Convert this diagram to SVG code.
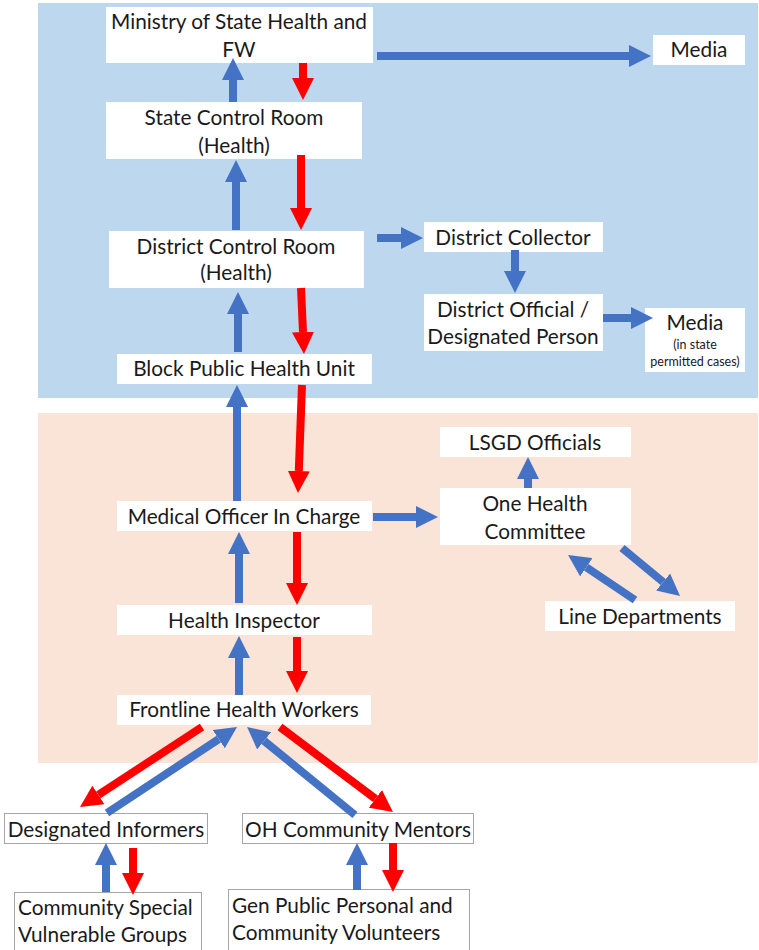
<svg xmlns="http://www.w3.org/2000/svg" width="759" height="950" viewBox="0 0 759 950">
<style>
.bg{fill:#ffffff}
.pblue{fill:#bdd7ee}
.ppeach{fill:#fae3d7}
.box{fill:#ffffff}
.obox{fill:#ffffff;stroke:#a6a6a6;stroke-width:1}
text{font-family:Lato,"Open Sans","Liberation Sans",sans-serif;font-size:20.8px;fill:#1a1a1a;text-anchor:middle}
.l{text-anchor:start}
.small{font-size:12.5px}
.b{stroke:#4472c4;stroke-width:8;fill:none;marker-end:url(#hb)}
.r{stroke:#ff0000;stroke-width:8;fill:none;marker-end:url(#hr)}
</style>
<defs>
<marker id="hb" viewBox="0 0 10 10" refX="0" refY="5" markerWidth="2.75" markerHeight="2.75" preserveAspectRatio="none" orient="auto" markerUnits="strokeWidth"><path d="M0,0 L10,5 L0,10 z" fill="#4472c4"/></marker>
<marker id="hr" viewBox="0 0 10 10" refX="0" refY="5" markerWidth="2.75" markerHeight="2.75" preserveAspectRatio="none" orient="auto" markerUnits="strokeWidth"><path d="M0,0 L10,5 L0,10 z" fill="#ff0000"/></marker>
</defs>
<rect class="bg" x="0" y="0" width="759" height="950"/>
<g id="panels">
<rect class="pblue" x="38" y="3" width="720" height="395"/>
<rect class="ppeach" x="38" y="413" width="720" height="350"/>
</g>
<g id="ministry"><rect class="box" x="106" y="7" width="267" height="56"/><text x="239" y="29">Ministry of State Health and</text><text x="239" y="57">FW</text></g>
<g id="media-top"><rect class="box" x="653" y="35" width="92" height="30"/><text x="699" y="57">Media</text></g>
<g id="state-control"><rect class="box" x="106" y="102" width="256" height="57"/><text x="234" y="125">State Control Room</text><text x="234" y="153">(Health)</text></g>
<g id="district-control"><rect class="box" x="109" y="231" width="255" height="57"/><text x="236" y="254">District Control Room</text><text x="236" y="280">(Health)</text></g>
<g id="district-collector"><rect class="box" x="424" y="222" width="179" height="30"/><text x="513" y="245">District Collector</text></g>
<g id="district-official"><rect class="box" x="424" y="294" width="179" height="57"/><text x="513" y="317">District Official /</text><text x="513" y="344">Designated Person</text></g>
<g id="media-district"><rect class="box" x="645" y="308" width="100" height="64"/><text x="695" y="330">Media</text><text class="small" x="695" y="349">(in state</text><text class="small" x="695" y="366">permitted cases)</text></g>
<g id="block"><rect class="box" x="117" y="354" width="255" height="30"/><text x="244" y="376">Block Public Health Unit</text></g>
<g id="lsgd"><rect class="box" x="440" y="427" width="191" height="30"/><text x="535" y="450">LSGD Officials</text></g>
<g id="one-health"><rect class="box" x="440" y="488" width="191" height="57"/><text x="535" y="511">One Health</text><text x="535" y="539">Committee</text></g>
<g id="line-dept"><rect class="box" x="545" y="601" width="190" height="30"/><text x="640" y="624">Line Departments</text></g>
<g id="medical-officer"><rect class="box" x="117" y="501" width="255" height="30"/><text x="244" y="524">Medical Officer In Charge</text></g>
<g id="health-inspector"><rect class="box" x="117" y="605" width="255" height="30"/><text x="244" y="628">Health Inspector</text></g>
<g id="frontline"><rect class="box" x="117" y="695" width="254" height="30"/><text x="244" y="717">Frontline Health Workers</text></g>
<g id="designated-informers"><rect class="obox" x="4.5" y="813.5" width="203" height="30"/><text x="106" y="837">Designated Informers</text></g>
<g id="oh-mentors"><rect class="obox" x="242.5" y="813.5" width="231" height="30"/><text x="358" y="837">OH Community Mentors</text></g>
<g id="community-special"><rect class="obox" x="14.5" y="892.5" width="187" height="62"/><text class="l" x="18" y="915">Community Special</text><text class="l" x="18" y="942">Vulnerable Groups</text></g>
<g id="gen-public"><rect class="obox" x="228.5" y="889.5" width="241" height="65"/><text class="l" x="232" y="913">Gen Public Personal and</text><text class="l" x="232" y="940">Community Volunteers</text></g>
<g id="connectors">
<line class="b" x1="377" y1="56" x2="629" y2="56"/>
<line class="b" x1="233" y1="102" x2="233" y2="80"/>
<line class="r" x1="303" y1="63" x2="303" y2="78"/>
<line class="b" x1="236" y1="230" x2="236" y2="182"/>
<line class="r" x1="301" y1="155" x2="301" y2="208"/>
<line class="b" x1="377" y1="238" x2="401" y2="238"/>
<line class="b" x1="515" y1="250" x2="515" y2="271"/>
<line class="b" x1="603" y1="318" x2="631" y2="318"/>
<line class="b" x1="238" y1="352" x2="238" y2="314"/>
<line class="r" x1="301" y1="288" x2="303" y2="332"/>
<line class="b" x1="237" y1="501" x2="237" y2="407"/>
<line class="r" x1="302" y1="385" x2="298.8" y2="471"/>
<line class="b" x1="373" y1="517" x2="416" y2="517"/>
<line class="b" x1="528" y1="488" x2="528" y2="479"/>
<line class="b" x1="635" y1="600" x2="586.3" y2="567.3"/>
<line class="b" x1="622" y1="548" x2="663.1" y2="582"/>
<line class="b" x1="239" y1="603" x2="239" y2="554"/>
<line class="r" x1="297" y1="532" x2="297" y2="583"/>
<line class="b" x1="239" y1="695" x2="239" y2="658"/>
<line class="r" x1="297" y1="637" x2="297" y2="671"/>
<line class="r" x1="202" y1="727" x2="98.4" y2="794.9"/>
<line class="b" x1="107" y1="813" x2="218.7" y2="739.1"/>
<line class="b" x1="355" y1="815" x2="264.1" y2="740.9"/>
<line class="r" x1="280" y1="727" x2="375.4" y2="798.8"/>
<line class="b" x1="106" y1="892" x2="106" y2="865"/>
<line class="r" x1="133" y1="848" x2="133" y2="873"/>
<line class="b" x1="357" y1="890" x2="357" y2="865"/>
<line class="r" x1="393" y1="843" x2="393" y2="870"/>
</g>
</svg>
